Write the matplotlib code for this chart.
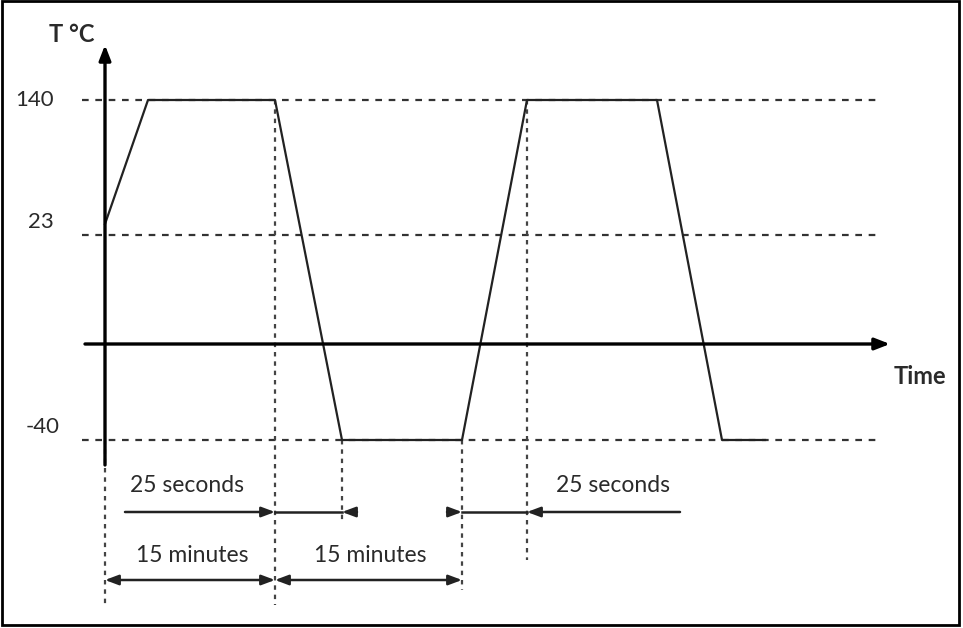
import matplotlib.pyplot as plt
import numpy as np
from matplotlib.patches import Rectangle

# Datos del ciclo térmico (esquema, eje de tiempo en unidades arbitrarias)
t_perfil = [0, 43, 170, 237, 357, 422, 552, 617, 660]
T_perfil = [23, 140, 140, -40, -40, 140, 140, -40, -40]

# niveles marcados en el eje vertical
T_ticks = [140, 23, -40]
T_labels = ["140", "23", "-40"]

# posición esquemática de cada temperatura (el dibujo no es lineal)
T_ref = [-40, 0, 23, 140]
T_pos = [-96, 0, 120, 244]

# tiempos marcados con líneas verticales
t_marcas = [0, 170, 237, 357, 422]
# intervalos anotados
t_25s = [(170, 237), (357, 422)]
t_15min = [(0, 170), (170, 357)]

nivel = lambda T: np.interp(T, T_ref, T_pos)
fuente = ["Lato", "DejaVu Sans"]
gris = "#2a2a2a"

fig = plt.figure(figsize=(9.63, 6.28), dpi=100)
ax = fig.add_axes([0, 0, 1, 1])
ax.set_xlim(-105, 858)
ax.set_ylim(-284, 344)
ax.axis("off")

# marco
ax.add_patch(Rectangle((0.002, 0.004), 0.994, 0.994, transform=ax.transAxes,
                       fill=False, lw=2, ec="black"))

# líneas de referencia horizontales
y_dash = {140: 244, 23: 109, -40: -96}
x_lab = {140: -70, 23: -64, -40: -62}
for T, lab in zip(T_ticks, T_labels):
    y = y_dash[T]
    ax.plot([-23, 775], [y, y], color="#333333", lw=1.6, ls=(0, (3, 3)))
    ax.text(x_lab[T], y + (13 if T != 140 else 0), lab,
            ha="center", va="center", fontsize=16, family=fuente, color=gris)

# perfil
ax.plot(t_perfil, nivel(T_perfil), color="#222222", lw=1.6, zorder=3)

# ejes con flecha
ax.annotate("", xy=(785, 0), xytext=(-20, 0),
            arrowprops=dict(arrowstyle="-|>,head_length=0.9,head_width=0.35",
                            lw=2.4, color="black", shrinkA=0, shrinkB=0), zorder=4)
ax.annotate("", xy=(0, 299), xytext=(0, -121),
            arrowprops=dict(arrowstyle="-|>,head_length=0.9,head_width=0.35",
                            lw=2.4, color="black", shrinkA=0, shrinkB=0), zorder=4)
ax.text(-33, 310, "T °C", ha="center", va="center", fontsize=17,
        fontweight="bold", family=fuente, color=gris)
ax.text(815, -32, "Time", ha="center", va="center", fontsize=17,
        fontweight="bold", family=fuente, color=gris)

# líneas verticales punteadas
v_tops = [-96, 244, -96, -96, 244]
v_bots = [-261, -261, -176, -246, -216]
for t, y0, y1 in zip(t_marcas, v_tops, v_bots):
    ax.plot([t, t], [y0, y1], color="#444444", lw=1.6, ls=(0, (2, 2.2)))

# flechas de 25 segundos
ah = dict(arrowstyle="-|>,head_length=0.8,head_width=0.3", lw=1.8,
          color="#222222", shrinkA=0, shrinkB=0)
y25 = -168
(a0, a1), (b0, b1) = t_25s
ax.annotate("", xy=(a0, y25), xytext=(20, y25), arrowprops=ah)
ax.annotate("", xy=(a1, y25), xytext=(a1 + 15, y25), arrowprops=ah)
ax.plot([a0, a1], [y25, y25], color="#222222", lw=1.8)
ax.annotate("", xy=(b0, y25), xytext=(b0 - 15, y25), arrowprops=ah)
ax.annotate("", xy=(b1, y25), xytext=(575, y25), arrowprops=ah)
ax.plot([b0, b1], [y25, y25], color="#222222", lw=1.8)
ax.text(82, -141, "25 seconds", ha="center", va="center", fontsize=16.5,
        family=fuente, color=gris)
ax.text(508, -141, "25 seconds", ha="center", va="center", fontsize=16.5,
        family=fuente, color=gris)

# flechas de 15 minutos
y15 = -236
ah2 = dict(arrowstyle="<|-|>,head_length=0.8,head_width=0.3", lw=1.8,
           color="#222222", shrinkA=0, shrinkB=0)
for (s, e) in t_15min:
    ax.annotate("", xy=(e, y15), xytext=(s, y15), arrowprops=ah2)
    ax.text((s + e) / 2 + 2, -212, "15 minutes", ha="center", va="center",
            fontsize=16.5, family=fuente, color=gris)

fig.savefig("out.png", dpi=100)
